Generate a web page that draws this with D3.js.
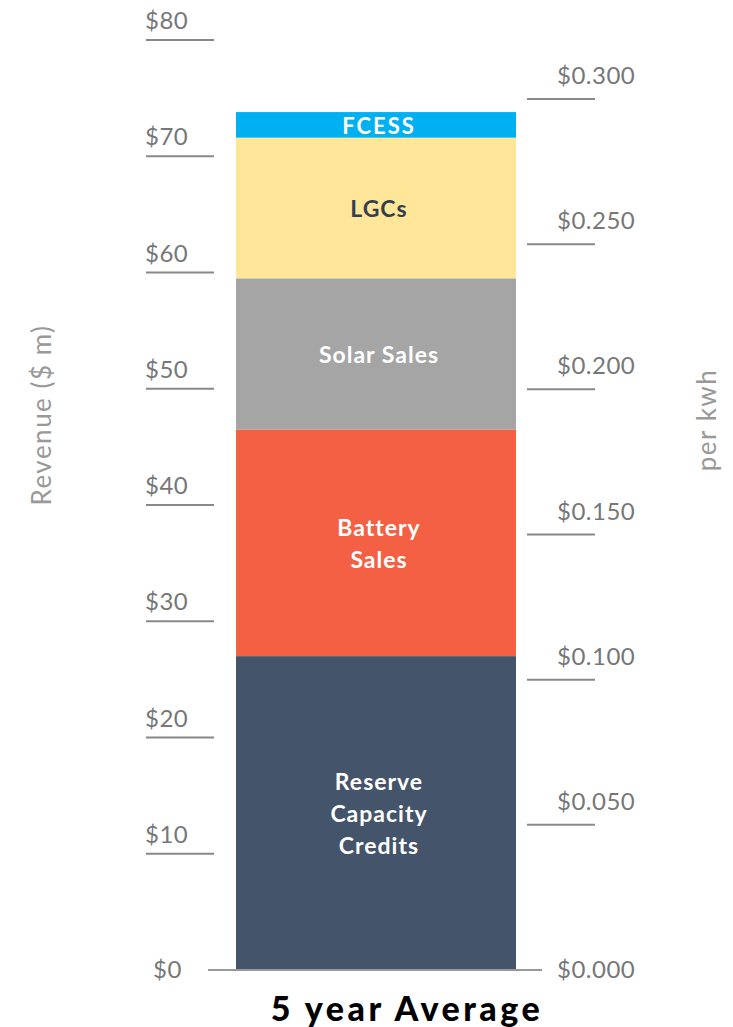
<!DOCTYPE html>
<html>
<head>
<meta charset="utf-8">
<script src="https://cdn.jsdelivr.net/npm/d3@7"></script>
<style>
  body { margin: 0; background: #fff; }
  text { font-family: Lato, "Open Sans", sans-serif; }
</style>
</head>
<body>
<svg id="chart" width="733" height="1027"></svg>
<script>
// revenue components, $ m, 5 year average
var segments = ["Reserve Capacity Credits", "Battery Sales", "Solar Sales", "LGCs", "FCESS"];
var segmentLines = [["Reserve", "Capacity", "Credits"], ["Battery", "Sales"], ["Solar Sales"], ["LGCs"], ["FCESS"]];
var values = [27.0, 19.5, 13.0, 12.1, 2.2];
var colours = ["#44546A", "#F36044", "#A5A5A5", "#FFE699", "#00B0F0"];
var labelColours = ["#fff", "#fff", "#fff", "#333F4F", "#fff"];

var leftTicks = [0, 10, 20, 30, 40, 50, 60, 70, 80];
var rightTicks = [0, 0.05, 0.1, 0.15, 0.2, 0.25, 0.3];

var svg = d3.select("#chart");

var y = d3.scaleLinear().domain([0, 80]).range([970, 40]);
var yKwh = d3.scaleLinear().domain([0, 0.3]).range([970, 99]);
var x = d3.scaleBand().domain(["5 year Average"]).range([236, 516]).padding(0);
var cx = x("5 year Average") + x.bandwidth() / 2;

// stacked segments
var stackRows = [{}];
segments.forEach(function (s, i) { stackRows[0][s] = values[i]; });
var stacked = d3.stack().keys(segments)(stackRows);

svg.selectAll("rect.seg")
    .data(stacked)
    .enter().append("rect")
    .attr("class", "seg")
    .attr("x", x("5 year Average"))
    .attr("width", x.bandwidth())
    .attr("y", function (d) { return y(d[0][1]); })
    .attr("height", function (d) { return y(d[0][0]) - y(d[0][1]); })
    .attr("fill", function (d, i) { return colours[i]; });

// segment labels
stacked.forEach(function (d, i) {
    var mid = (y(d[0][0]) + y(d[0][1])) / 2;
    var lines = segmentLines[i];
    var lh = 32;
    var fs = i == 4 ? 22 : 23;
    svg.append("text")
        .attr("x", cx + 3)
        .attr("y", mid - (lines.length - 1) * lh / 2)
        .attr("text-anchor", "middle")
        .attr("dominant-baseline", "central")
        .style("font-weight", "bold")
        .style("font-size", fs + "px")
        .style("letter-spacing", (i == 4 ? 2 : 1) + "px")
        .attr("fill", labelColours[i])
        .selectAll("tspan")
        .data(lines)
        .enter().append("tspan")
        .attr("x", cx + 3)
        .attr("dy", function (l, j) { return j == 0 ? 0 : lh; })
        .text(function (l) { return l; });
});

// baseline
svg.append("line")
    .attr("x1", 208).attr("x2", 542)
    .attr("y1", y(0)).attr("y2", y(0))
    .attr("stroke", "#999").attr("stroke-width", 2);

// left ticks: label sitting on a short rule
var left = svg.selectAll("g.lt")
    .data(leftTicks)
    .enter().append("g")
    .attr("class", "lt");

left.filter(function (d) { return d > 0; })
    .append("line")
    .attr("x1", 146).attr("x2", 214)
    .attr("y1", function (d) { return y(d); })
    .attr("y2", function (d) { return y(d); })
    .attr("stroke", "#888").attr("stroke-width", 2);

left.append("text")
    .attr("x", function (d) { return d == 0 ? 153 : 145; })
    .attr("y", function (d) { return d == 0 ? y(d) + 8 : y(d) - 11; })
    .attr("fill", "#777")
    .style("font-size", "24px")
    .style("letter-spacing", "0.5px")
    .text(function (d) { return "$" + d; });

// right ticks
var right = svg.selectAll("g.rt")
    .data(rightTicks)
    .enter().append("g")
    .attr("class", "rt");

right.filter(function (d) { return d > 0; })
    .append("line")
    .attr("x1", 527).attr("x2", 595)
    .attr("y1", function (d) { return yKwh(d); })
    .attr("y2", function (d) { return yKwh(d); })
    .attr("stroke", "#888").attr("stroke-width", 2);

right.append("text")
    .attr("x", 557)
    .attr("y", function (d) { return d == 0 ? yKwh(d) + 8 : yKwh(d) - 15; })
    .attr("fill", "#777")
    .style("font-size", "24px")
    .style("letter-spacing", "0.5px")
    .text(function (d) { return "$" + d3.format(".3f")(d); });

// axis titles
svg.append("text")
    .attr("transform", "translate(51,415) rotate(-90)")
    .attr("text-anchor", "middle")
    .attr("fill", "#999")
    .style("font-size", "26px")
    .style("letter-spacing", "1.5px")
    .text("Revenue ($ m)");

svg.append("text")
    .attr("transform", "translate(716,420) rotate(-90)")
    .attr("text-anchor", "middle")
    .attr("fill", "#999")
    .style("font-size", "26px")
    .style("letter-spacing", "1.5px")
    .text("per kwh");

// category label
svg.append("text")
    .attr("x", cx + 31)
    .attr("y", 1021)
    .attr("text-anchor", "middle")
    .attr("fill", "#000")
    .style("font-weight", "900")
    .style("font-size", "34px")
    .style("letter-spacing", "3.5px")
    .text("5 year Average");
</script>
</body>
</html>
